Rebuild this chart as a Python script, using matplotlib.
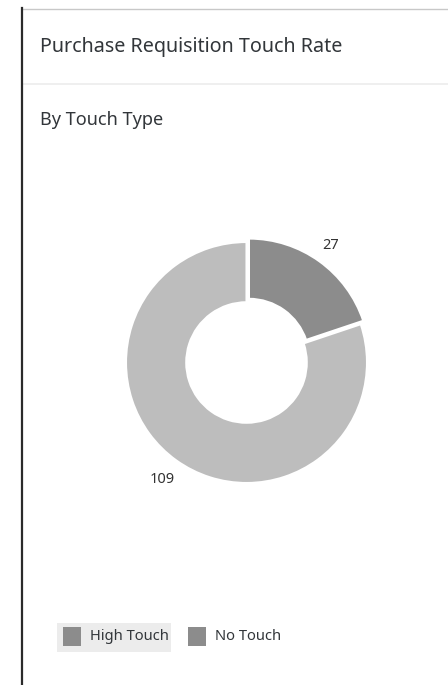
import matplotlib
matplotlib.use("Agg")
import matplotlib.pyplot as plt
from matplotlib.lines import Line2D
from matplotlib.patches import Rectangle
import numpy as np

plt.rcParams['font.family'] = ['Noto Sans', 'DejaVu Sans']

title = "Purchase Requisition Touch Rate"
subtitle = "By Touch Type"
touch_types = ["High Touch", "No Touch"]
counts = [27, 109]
slice_colors = ["#8c8c8c", "#bdbdbd"]
legend_colors = ["#8c8c8c", "#8c8c8c"]

W, H = 448, 685
fig = plt.figure(figsize=(W / 100, H / 100), dpi=100)
fig.patch.set_facecolor("white")


def fx(px):
    return px / W


def fy(py):
    return 1 - py / H


# card frame
fig.add_artist(Line2D([fx(23), 1], [fy(9), fy(9)], color="#c8c8c8", lw=1.0))
fig.add_artist(Line2D([fx(23), 1], [fy(83.5), fy(83.5)], color="#ececec", lw=1.2))
fig.add_artist(Line2D([fx(21.5), fx(21.5)], [fy(8), fy(H)], color="#2b2b2b", lw=1.6))

fig.text(fx(40), fy(47), title, fontsize=14.2, color="#32363a", va="center", ha="left")
fig.text(fx(40), fy(120), subtitle, fontsize=13, color="#32363a", va="center", ha="left")

# donut
cx, cy, R = 246.5, 362.5, 120.5
L = 1.4
S = 2 * L * R
ax = fig.add_axes([fx(cx - S / 2), fy(cy + S / 2), S / W, S / H])
wedges, _ = ax.pie(counts, colors=slice_colors, startangle=90, counterclock=False,
                   radius=1.0, explode=[0.035, 0],
                   wedgeprops=dict(width=0.5, edgecolor="white", linewidth=1.5))
ax.set_xlim(-L, L)
ax.set_ylim(-L, L)
ax.axis("off")
for w, n in zip(wedges, counts):
    ang = np.deg2rad((w.theta1 + w.theta2) / 2)
    ax.text(1.2 * np.cos(ang), 1.2 * np.sin(ang), str(n), fontsize=10.5,
            color="#333333", ha="center", va="center")

# legend
fig.add_artist(Rectangle((fx(56.5), fy(652)), fx(171) - fx(56.5), fy(623) - fy(652),
                         facecolor="#ececec", edgecolor="none"))
legend_x = [63, 188]
for x0, name, c in zip(legend_x, touch_types, legend_colors):
    fig.add_artist(Rectangle((fx(x0), fy(646)), fx(18), fy(627) - fy(646),
                             facecolor=c, edgecolor="none"))
    fig.text(fx(x0 + 27), fy(637), name, fontsize=10.6, color="#32363a",
             va="center", ha="left")

fig.savefig("out.png", dpi=100)
